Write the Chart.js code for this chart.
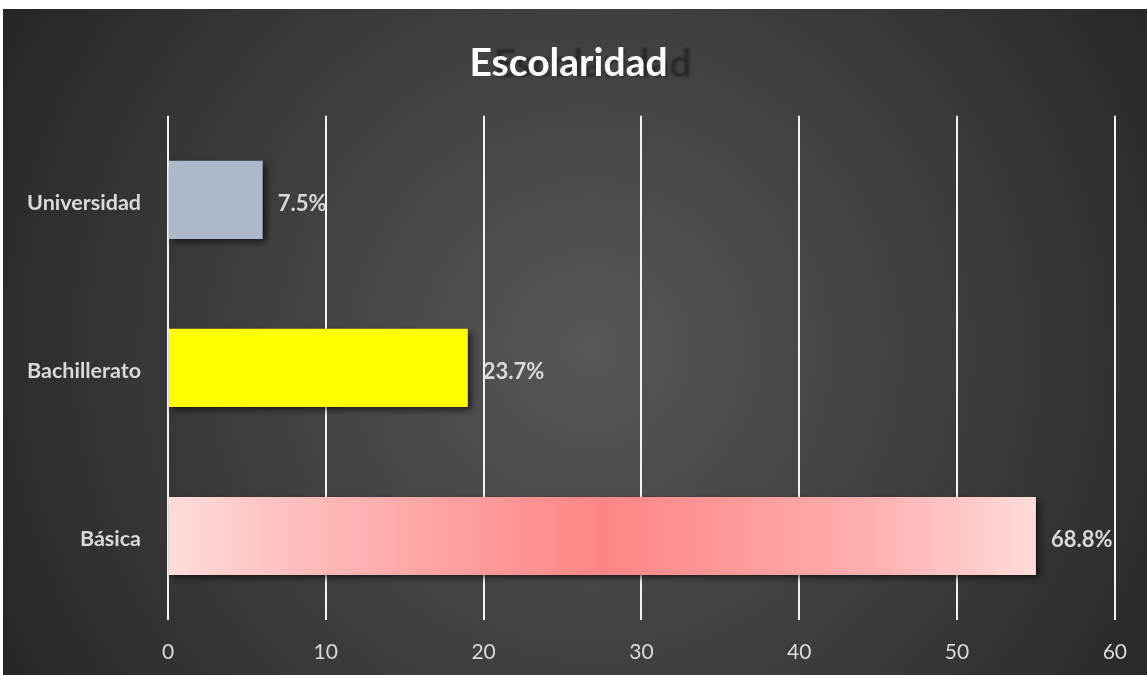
<!DOCTYPE html>
<html>
<head>
<meta charset="utf-8">
<script src="https://cdn.jsdelivr.net/npm/chart.js@4"></script>
<style>
  html, body { margin: 0; padding: 0; background: #fff; }
  #wrap { position: absolute; left: 3px; top: 9px; width: 1144px; height: 666px; }
</style>
</head>
<body>
<div id="wrap"><canvas id="escolaridadChart"></canvas></div>
<script>
// datos
const categorias = ['Universidad', 'Bachillerato', 'Básica'];
const valores = [6, 19, 55];
const etiquetas = ['7.5%', '23.7%', '68.8%'];
const ticksX = [0, 10, 20, 30, 40, 50, 60];

const FONT = 'Lato, "Open Sans", sans-serif';
const TITULO = 'Escolaridad';

// fondo oscuro con degradado radial + sombra del titulo
const fondo = {
  id: 'fondo',
  beforeDraw(chart) {
    const { ctx, width, height } = chart;
    ctx.save();
    const g = ctx.createRadialGradient(587, 340, 0, 587, 340, 720);
    g.addColorStop(0, '#575757');
    g.addColorStop(0.55, '#3b3b3b');
    g.addColorStop(1, '#232323');
    ctx.fillStyle = g;
    ctx.fillRect(0, 0, width, height);
    // sombra fantasma del titulo
    const t = chart.titleBlock;
    ctx.font = 'bold 39px ' + FONT;
    ctx.textAlign = 'center';
    ctx.textBaseline = 'middle';
    ctx.fillStyle = 'rgba(25,25,25,0.6)';
    ctx.filter = 'blur(1px)';
    ctx.fillText(TITULO, (t.left + t.right) / 2 + 24, (t.top + t.bottom) / 2 + 2);
    ctx.restore();
  }
};

// sombra de las barras
const sombra = {
  id: 'sombra',
  beforeDatasetsDraw(chart) {
    const ctx = chart.ctx;
    ctx.save();
    ctx.shadowColor = 'rgba(0,0,0,0.65)';
    ctx.shadowBlur = 7;
    ctx.shadowOffsetX = 3;
    ctx.shadowOffsetY = 3;
  },
  afterDatasetsDraw(chart) {
    chart.ctx.restore();
  }
};

// etiquetas de porcentaje
const porcentajes = {
  id: 'porcentajes',
  afterDraw(chart) {
    const ctx = chart.ctx;
    const meta = chart.getDatasetMeta(0);
    ctx.save();
    ctx.font = 'bold 22px ' + FONT;
    ctx.fillStyle = '#d9d9d9';
    ctx.textAlign = 'left';
    ctx.textBaseline = 'middle';
    meta.data.forEach((bar, i) => {
      ctx.fillText(etiquetas[i], bar.x + 15, bar.y + 4);
    });
    ctx.restore();
  }
};

function colorBarra(context) {
  const i = context.dataIndex;
  if (i === 0) return '#adb9ca';
  if (i === 1) return '#ffff00';
  const chart = context.chart;
  const area = chart.chartArea;
  if (!area) return '#ff9a9a';
  const x0 = chart.scales.x.getPixelForValue(0);
  const x1 = chart.scales.x.getPixelForValue(valores[2]);
  const g = chart.ctx.createLinearGradient(x0, 0, x1, 0);
  g.addColorStop(0, '#ffdcdc');
  g.addColorStop(0.15, '#ffbdbd');
  g.addColorStop(0.5, '#ff8585');
  g.addColorStop(0.8, '#ffaeae');
  g.addColorStop(1, '#ffdada');
  return g;
}

const ctx = document.getElementById('escolaridadChart').getContext('2d');
new Chart(ctx, {
  type: 'bar',
  data: {
    labels: categorias,
    datasets: [{
      label: 'Escolaridad',
      data: valores,
      backgroundColor: colorBarra,
      borderWidth: 0,
      categoryPercentage: 1,
      barPercentage: 0.465
    }]
  },
  options: {
    indexAxis: 'y',
    responsive: true,
    maintainAspectRatio: false,
    animation: false,
    layout: { padding: { left: 0, right: 13, top: 0, bottom: 0 } },
    plugins: {
      legend: { display: false },
      tooltip: { enabled: false },
      title: {
        display: true,
        text: TITULO,
        color: '#ffffff',
        font: { family: FONT, size: 39, weight: 'bold' },
        padding: { top: 31, bottom: 29 }
      }
    },
    scales: {
      x: {
        min: 0,
        max: 60,
        afterBuildTicks(scale) {
          scale.ticks = ticksX.map(v => ({ value: v }));
        },
        afterFit(scale) { scale.height = 55; },
        grid: { color: '#f2f2f2', lineWidth: 2, drawTicks: false },
        border: { display: false },
        ticks: {
          color: '#d9d9d9',
          padding: 20,
          font: { family: FONT, size: 21 }
        }
      },
      y: {
        grid: { display: false, drawTicks: false },
        border: { display: false },
        afterFit(scale) { scale.width = 165; },
        ticks: {
          color: '#d9d9d9',
          padding: 27,
          labelOffset: 3,
          font: { family: FONT, size: 21.5, weight: 'bold' }
        }
      },
      // eje vacio a la derecha para dejar margen
      y2: {
        type: 'category',
        labels: categorias,
        position: 'right',
        grid: { display: false, drawTicks: false },
        border: { display: false },
        ticks: { display: false },
        afterFit(scale) { scale.width = 13; }
      }
    }
  },
  plugins: [fondo, sombra, porcentajes]
});
</script>
</body>
</html>
